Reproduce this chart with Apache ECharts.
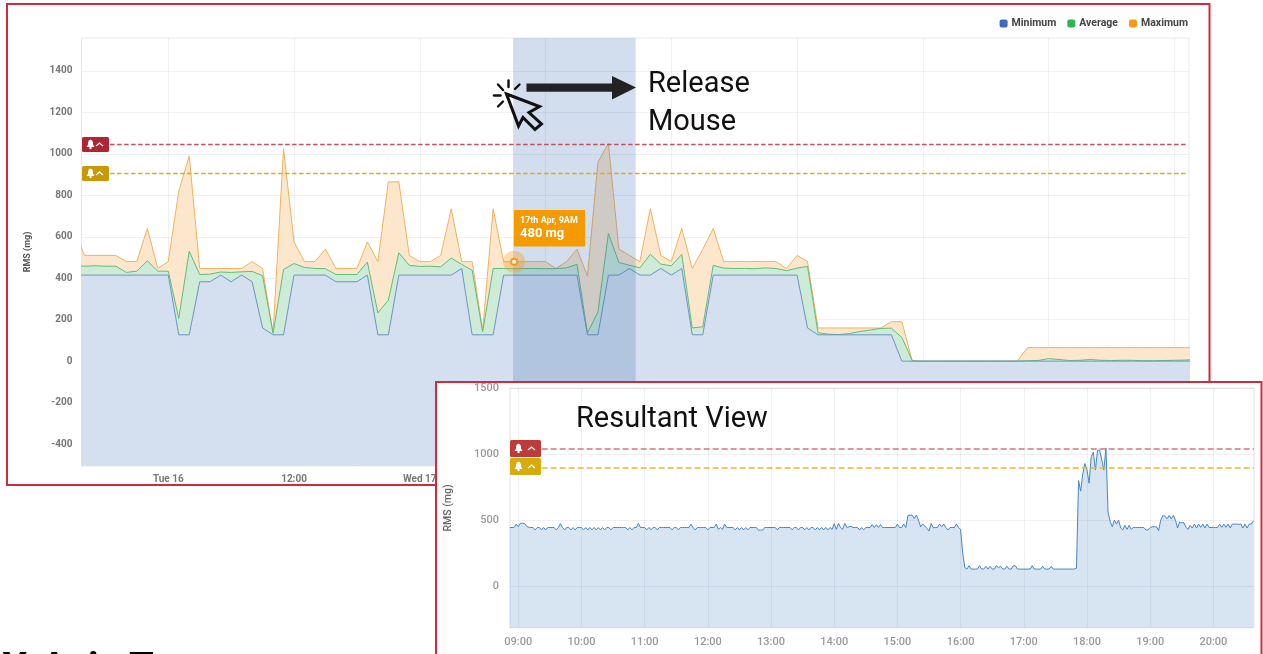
<!DOCTYPE html>
<html>
<head>
<meta charset="utf-8">
<title>RMS zoom</title>
<script src="https://cdn.jsdelivr.net/npm/echarts@6/dist/echarts.min.js"></script>
<style>
  html, body { margin: 0; padding: 0; background: #fff; overflow: hidden; }
  #main { position: absolute; left: 0; top: 0; width: 1263px; height: 654px; }
  #inset { position: absolute; left: 435px; top: 381px; width: 828px; height: 273px; background: #fff; }
</style>
</head>
<body>
<div id="main"></div>
<div id="inset"></div>
<script>
// hourly values, first one is 9 hours before Tue 16 00:00
var maxValues = [640,
  510,510,510,510,480,480,640,447,480,820,
  990,447,447,447,447,447,480,447,135,1025,
  575,480,480,540,447,447,447,575,480,865,
  865,510,480,480,510,735,480,480,150,735,
  480,480,480,480,480,447,480,540,410,960,
  1050,540,510,480,735,510,480,640,447,540,
  640,480,480,480,480,480,480,447,510,480,
  160,160,160,160,160,160,160,190,190,0,
  0,0,0,0,0,0,0,0,0,0,
  65,65,65,65,65,65,65,65,65,65,65,65,65,65,65,65,65];
var avgValues = [463,
  458,460,458,458,428,434,484,434,434,206,
  530,418,420,430,428,431,433,412,135,442,
  471,452,447,446,418,418,418,478,233,294,
  523,462,457,458,455,497,467,438,142,447,
  447,446,447,447,446,446,450,467,135,238,
  616,476,463,450,516,468,460,515,160,166,
  462,449,447,447,446,450,447,436,449,457,
  137,130,128,133,143,150,158,159,114,2,
  0,0,0,0,0,0,0,0,0,0,
  2,3,12,8,3,4,8,4,3,4,4,2,2,3,4,5,8];
var minValues = [415,
  415,415,415,415,415,415,415,415,415,127,
  127,383,383,415,383,415,383,160,127,127,
  415,415,415,415,383,383,383,415,127,127,
  415,415,415,415,415,415,447,127,127,127,
  415,415,415,415,415,415,415,415,127,127,
  415,415,447,415,415,447,415,447,127,127,
  415,415,415,415,415,415,415,415,415,160,
  127,127,127,127,127,127,127,127,0,0,
  0,0,0,0,0,0,0,0,0,0,
  0,0,0,0,0,0,0,0,0,0,0,0,0,0,0,0,0];

var yTicks = [-400,-200,0,200,400,600,800,1000,1200,1400];
var xTickHours = [0,12,24,36,48,60,72,84,96];
var xTickLabels = ['Tue 16','12:00','Wed 17'];

// zoomed view, one value every 2 minutes from 08:52
var insetValues = [
  444,444,444,470,
  // 09:00
  450,476,476,476,452,446,444,444,426,444,444,426,444,426,444,444,444,444,426,444,474,444,426,444,444,426,444,426,444,444,
  // 10:00
  444,426,444,426,444,426,444,426,444,426,444,426,444,444,426,444,444,444,444,444,444,444,426,444,426,444,444,476,444,444,
  // 11:00
  444,426,444,426,444,444,426,444,444,444,444,444,444,426,444,444,426,444,444,444,444,444,470,444,426,444,444,444,444,444,
  // 12:00
  426,444,444,444,470,430,444,430,470,444,444,444,444,426,444,426,444,426,444,426,444,444,444,444,424,424,424,444,444,444,
  // 13:00
  444,444,444,426,444,444,444,444,444,444,426,444,444,426,444,444,426,444,426,444,444,426,444,426,444,426,444,426,444,430,
  // 14:00
  474,430,476,444,430,476,444,450,452,444,444,444,426,444,426,444,444,444,466,444,466,444,466,444,444,444,444,444,444,444,
  // 15:00
  470,444,444,470,444,535,538,538,512,538,500,450,470,455,437,417,475,442,444,444,470,450,470,444,425,444,444,444,470,444,
  // 16:00
  430,250,140,129,154,129,129,129,129,154,129,129,150,129,150,129,129,154,140,150,129,129,150,129,129,154,154,129,129,129,
  // 17:00
  129,129,129,129,154,129,129,129,129,150,129,129,129,150,129,129,129,129,129,129,129,129,129,129,129,135,800,720,850,930,
  // 18:00
  880,780,980,1015,880,1030,1030,960,880,1048,560,490,450,500,470,500,440,426,460,430,460,430,444,444,444,444,444,444,425,425,
  // 19:00
  444,450,450,450,420,500,535,530,510,535,510,535,500,440,485,480,480,445,430,460,440,470,440,470,445,470,440,470,444,444,
  // 20:00
  444,444,444,470,445,470,445,470,440,470,470,470,468,470,440,470,440,470,470,495
];
var insetYTicks = [0,500,1000,1500];
var insetXTicks = [9,10,11,12,13,14,15,16,17,18,19,20];

var dangerLevel = 1045;
var warnLevel = 906;
var insetDanger = 1043;
var insetWarn = 901;

function pairs(list) {
  return list.map(function (v, i) { return [i - 9, v]; });
}

var font = 'Roboto, sans-serif';

function plain(v) { return String(v); }

function badge(x, y, w, h, color) {
  var m = h / 2;
  return {
    type: 'group', x: x, y: y, z: 20,
    children: [
      { type: 'rect', shape: { x: 0, y: 0, width: w, height: h, r: 1.5 }, style: { fill: color }, z: 20 },
      // bell
      { type: 'polygon', shape: { points: [[8.5, m - 5], [6.8, m - 4], [6, m - 2], [6, m], [4.5, m + 2.5], [12.5, m + 2.5], [11, m], [11, m - 2], [10.2, m - 4]] }, style: { fill: '#fff' }, z: 21 },
      { type: 'circle', shape: { cx: 8.5, cy: m + 3.5, r: 1.2 }, style: { fill: '#fff' }, z: 21 },
      { type: 'polyline', shape: { points: [[w - 13, m + 1.5], [w - 9.5, m - 1.5], [w - 6, m + 1.5]] }, style: { stroke: '#fff', lineWidth: 1.3, fill: null }, z: 21 }
    ]
  };
}

function ray(x1, y1, x2, y2) {
  return { type: 'line', shape: { x1: x1, y1: y1, x2: x2, y2: y2 }, style: { stroke: '#111', lineWidth: 2.4, lineCap: 'round' }, z: 20 };
}

function areaSeries(name, data, color, lineColor, fill) {
  return {
    name: name, type: 'line', data: data, color: color,
    showSymbol: false, symbol: 'none', animation: false,
    lineStyle: { width: 1, color: lineColor },
    areaStyle: { color: fill, opacity: 1, origin: 'start' }
  };
}

var maxSeries = areaSeries('Maximum', pairs(maxValues), '#f59a1f', '#efb25e', '#fde7cc');
var avgSeries = areaSeries('Average', pairs(avgValues), '#2fb457', '#62bb78', '#cdebd6');
var minSeries = areaSeries('Minimum', pairs(minValues), '#3b6eb5', '#6c95c2', '#d4dfef');

maxSeries.markLine = {
  silent: true, symbol: 'none', animation: false, label: { show: false },
  data: [
    [{ coord: [-5.55, dangerLevel], lineStyle: { color: '#c4505f', width: 1.4, type: [4.5, 2.5] } }, { coord: [97.2, dangerLevel] }],
    [{ coord: [-5.55, warnLevel], lineStyle: { color: '#d6ae22', width: 1.4, type: [4.5, 2.5] } }, { coord: [97.2, warnLevel] }]
  ]
};
maxSeries.markPoint = {
  silent: true, animation: false, z: 6, label: { show: false },
  data: [
    { coord: [33, 480], symbol: 'circle', symbolSize: 22, itemStyle: { color: 'rgba(245,155,30,0.35)' } },
    { coord: [33, 480], symbol: 'circle', symbolSize: 6, itemStyle: { color: '#fff', borderColor: '#f59a1f', borderWidth: 2 } }
  ]
};
// drag selection band
minSeries.markArea = {
  silent: true, animation: false, z: 4,
  itemStyle: { color: 'rgba(62,108,176,0.23)' },
  data: [[{ xAxis: 32.9 }, { xAxis: 44.6 }]]
};

var chart = echarts.init(document.getElementById('main'), null, { renderer: 'canvas' });
chart.setOption({
  animation: false,
  textStyle: { fontFamily: font },
  legend: {
    data: ['Minimum', 'Average', 'Maximum'],
    right: 75, top: 18, padding: 0, icon: 'roundRect', itemWidth: 8, itemHeight: 8, itemGap: 11,
    selectedMode: false,
    textStyle: { fontFamily: font, fontSize: 10.5, fontWeight: 'bold', color: '#444', padding: [0, 0, 0, -1] }
  },
  grid: { left: 81.5, right: 74, top: 38, bottom: 188, show: true, borderColor: '#e9e9e9', borderWidth: 1, outerBoundsMode: 'none' },
  xAxis: {
    type: 'value', min: -8.28, max: 97.4, z: 3,
    axisLine: { show: false },
    axisTick: { show: false, customValues: xTickHours },
    axisLabel: {
      customValues: xTickHours.slice(0, 3),
      margin: 8, fontFamily: font, fontSize: 10, fontWeight: 'bold', color: '#777',
      formatter: function (v) { return xTickLabels[Math.round(v / 12)]; }
    },
    splitLine: { show: true, lineStyle: { color: 'rgba(60,70,90,0.08)', width: 1 } }
  },
  yAxis: {
    type: 'value', min: -506, max: 1559, z: 3,
    name: 'RMS (mg)', nameLocation: 'middle', nameGap: 49,
    nameTextStyle: { fontFamily: font, fontSize: 9, fontWeight: 'bold', color: '#555' },
    axisLine: { show: false },
    axisTick: { show: false, customValues: yTicks },
    axisLabel: { customValues: yTicks, margin: 9, fontFamily: font, fontSize: 10, fontWeight: 'bold', color: '#777', formatter: plain },
    splitLine: { show: true, lineStyle: { color: 'rgba(60,70,90,0.08)', width: 1 } }
  },
  series: [maxSeries, avgSeries, minSeries],
  graphic: { elements: [
    { type: 'rect', shape: { x: 7, y: 4, width: 1202.5, height: 481 }, style: { fill: null, stroke: '#d22a3c', lineWidth: 2 }, z: 20 },
    badge(82, 137, 27, 15, '#b12431'),
    badge(82, 166, 27, 15, '#c79a05'),
    // tooltip callout
    { type: 'rect', shape: { x: 514, y: 210, width: 71, height: 36.5 }, style: { fill: '#f59b00' }, z: 20 },
    { type: 'text', x: 520, y: 221, style: { text: '17th Apr, 9AM', fill: '#fff', font: 'bold 9px ' + font, textVerticalAlign: 'middle' }, z: 21 },
    { type: 'text', x: 520, y: 234, style: { text: '480 mg', fill: '#fff', font: 'bold 13px ' + font, textVerticalAlign: 'middle' }, z: 21 },
    // arrow
    { type: 'polygon', shape: { points: [[526.5, 83.5], [612, 83.5], [612, 76], [636, 87.5], [612, 99.5], [612, 91.7], [526.5, 91.7]] }, style: { fill: '#222' }, z: 20 },
    // cursor
    { type: 'polygon', shape: { points: [[506.5, 94], [539.5, 106.5], [529, 112.5], [541.5, 124], [535, 129.5], [523, 117.5], [518.5, 126]] }, style: { fill: null, stroke: '#111', lineWidth: 3, lineJoin: 'miter' }, z: 20 },
    ray(508.5, 80.5, 508.5, 87),
    ray(519.5, 84.5, 515, 89),
    ray(498, 84.5, 503, 90),
    ray(494, 95.5, 500.5, 95.5),
    ray(498, 106.5, 503, 101.5),
    { type: 'text', x: 648, y: 70, style: { text: 'Release', fill: '#111', font: '29px ' + font }, z: 20 },
    { type: 'text', x: 648, y: 108, style: { text: 'Mouse', fill: '#111', font: '29px ' + font }, z: 20 },
    { type: 'text', x: 2, y: 651, style: { text: 'X-Axis T', fill: '#000', font: 'bold 40px ' + font }, z: 20 }
  ] }
});

// Resultant view, second chart on top. x is hour of day
var insetData = insetValues.map(function (v, i) { return [8 + 52 / 60 + i / 30, v]; });
var insetMin = 8.869;
var insetMax = 20.643;

var chart2 = echarts.init(document.getElementById('inset'), null, { renderer: 'canvas' });
chart2.setOption({
  animation: false,
  textStyle: { fontFamily: font },
  grid: { left: 75, right: 9, top: 7.3, bottom: 26.3, show: true, borderColor: '#ececec', borderWidth: 1.5, outerBoundsMode: 'none' },
  xAxis: {
    type: 'value', min: insetMin, max: insetMax, z: 3,
    axisLine: { show: false },
    axisTick: { show: false, customValues: insetXTicks },
    axisLabel: {
      customValues: insetXTicks,
      margin: 9, fontFamily: font, fontSize: 11, fontWeight: 500, color: '#999',
      formatter: function (v) { return (v < 10 ? '0' : '') + v + ':00'; }
    },
    splitLine: { show: true, lineStyle: { color: 'rgba(60,70,90,0.08)', width: 1 } }
  },
  yAxis: {
    type: 'value', min: -316, max: 1500, z: 3,
    name: 'RMS (mg)', nameLocation: 'middle', nameGap: 56,
    nameTextStyle: { fontFamily: font, fontSize: 10.5, fontWeight: 500, color: '#666' },
    axisLine: { show: false },
    axisTick: { show: false, customValues: insetYTicks },
    axisLabel: { customValues: insetYTicks, margin: 11, fontFamily: font, fontSize: 11, fontWeight: 500, color: '#999', formatter: plain },
    splitLine: { show: true, lineStyle: { color: 'rgba(60,70,90,0.08)', width: 1 } }
  },
  series: [{
    name: 'RMS', type: 'line', data: insetData, showSymbol: false, symbol: 'none', animation: false,
    lineStyle: { width: 1, color: '#4a86bd' },
    areaStyle: { color: '#4a86bd', opacity: 0.22, origin: 'start' },
    markLine: {
      silent: true, symbol: 'none', animation: false, label: { show: false },
      data: [
        [{ coord: [9.37, insetDanger], lineStyle: { color: '#d8747a', width: 1.5, type: [6, 3] } }, { coord: [insetMax, insetDanger] }],
        [{ coord: [9.37, insetWarn], lineStyle: { color: '#e2bb35', width: 1.5, type: [6, 3] } }, { coord: [insetMax, insetWarn] }]
      ]
    }
  }],
  graphic: { elements: [
    { type: 'rect', shape: { x: 1, y: 1, width: 825.5, height: 300 }, style: { fill: null, stroke: '#d22a3c', lineWidth: 2 }, z: 20 },
    badge(75, 59, 31, 17, '#bd3b3b'),
    badge(75, 77, 31, 17, '#d7ab0c'),
    { type: 'text', x: 141, y: 24, style: { text: 'Resultant View', fill: '#111', font: '29px ' + font }, z: 20 }
  ] }
});
</script>
</body>
</html>
